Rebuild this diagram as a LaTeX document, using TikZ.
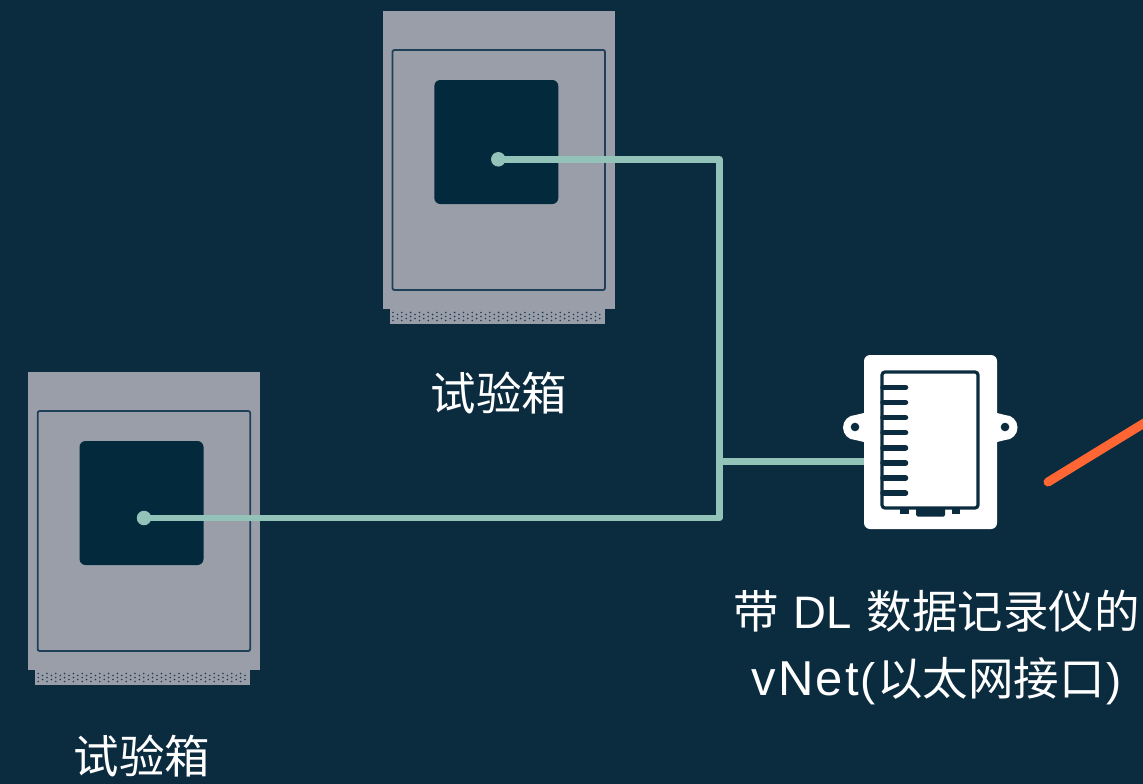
\documentclass[tikz,border=0pt]{standalone}
\usepackage{fontspec}
\setmainfont{Liberation Sans}
\newfontfamily\cjkf{Noto Sans CJK SC}
\newfontfamily\latn[LetterSpace=5]{Liberation Sans}
\definecolor{bgc}{HTML}{0B2B3F}
\definecolor{grayc}{HTML}{9A9EA8}
\definecolor{darkc}{HTML}{032A3C}
\definecolor{tealc}{HTML}{93C3B8}
\definecolor{orangec}{HTML}{FF6633}
\definecolor{edgec}{HTML}{1F4058}
\tikzset{
  x=1pt,y=-1pt,
  wire/.style={draw=tealc,line width=6.5pt,line join=round},
  portdot/.style={circle,fill=tealc,minimum size=14.5pt,inner sep=0pt},
  lbl/.style={text=white,inner sep=0pt,align=center,font=\cjkf\fontsize{45.5}{67}\selectfont},
  pics/chamber/.style={code={
    \fill[grayc] (0,0) rectangle (232,298);
    \fill[grayc] (7,298) rectangle (222,312.5);
    \draw[edgec,line width=1.8pt,rounded corners=2pt] (9.5,39) rectangle (222,279);
    \fill[darkc,rounded corners=6pt] (51.3,69) rectangle (175.3,193);
    \foreach \i in {0,...,47}{
      \pgfmathsetmacro{\cx}{10+4.4*\i}
      \ifodd\i
        \fill[edgec] (\cx,303.5) circle (.9pt) (\cx,307.5) circle (.9pt);
      \else
        \fill[edgec] (\cx,301.5) circle (.9pt) (\cx,305.5) circle (.9pt) (\cx,309.5) circle (.9pt);
      \fi
    }
  }}
}
\begin{document}
\begin{tikzpicture}
\useasboundingbox (0,0) rectangle (1143,784);
\fill[bgc] (0,0) rectangle (1143,784);
\pic (top) at (383,11) {chamber};
\pic (low) at (28.2,372) {chamber};
% device
\fill[white] (855.5,427.5) circle (12.5pt);
\fill[white] (1005,427.5) circle (12.5pt);
\fill[white] (855.5,415) -- (866,412.5) -- (866,442.5) -- (855.5,440) -- cycle;
\fill[white] (1005,415) -- (995,412.5) -- (995,442.5) -- (1005,440) -- cycle;
\node[fill=white,rounded corners=6pt,minimum width=133pt,minimum height=174pt,inner sep=0pt] (dev) at (930.5,442) {};
\fill[bgc] (855,427) circle (4.3pt) (1005,427) circle (4.3pt);
\draw[bgc,line width=3.2pt,rounded corners=3pt] (882,372) rectangle (978,508);
\foreach \k in {0,...,7}{
  \draw[bgc,line width=5.5pt,line cap=round] (883,387.3+15.13*\k) -- (905.5,387.3+15.13*\k);
}
\fill[bgc] (900,508) rectangle (909,514);
\fill[bgc] (952,508) rectangle (960,514);
\fill[bgc,rounded corners=1.5pt] (916,508) rectangle (945,516.5);
% connectors
\node[portdot] (topdot) at (498.3,159.3) {};
\node[portdot] (lowdot) at (144,518) {};
\coordinate (bend) at (719.5,159.3);
\coordinate (lowbend) at (719.5,518);
\coordinate (tee) at (719.5,461.7);
\draw[wire] (topdot.center) -- (bend) -- (lowbend) -- (lowdot.center);
\draw[wire] (tee) -- (tee -| dev.west);
% orange
\coordinate (oa) at (1048,482);
\coordinate (ob) at (1150,419.5);
\draw[orangec,line width=9pt,line cap=round] (oa) -- (ob);
% labels
\node[lbl] (t1) at (499,393) {试验箱};
\node[lbl] (t2) at (142,756) {试验箱};
\node[lbl] (t3) at (936.5,647.5) {带\hspace{15pt}{\rmfamily DL}\hspace{15pt}数据记录仪的\\ {\latn\fontsize{49}{67}\selectfont vNet}\hspace{1pt}{\rmfamily(}\hspace{2pt}以太网接口\hspace{2pt}{\rmfamily)}\hspace{13pt}};
\end{tikzpicture}
\end{document}
